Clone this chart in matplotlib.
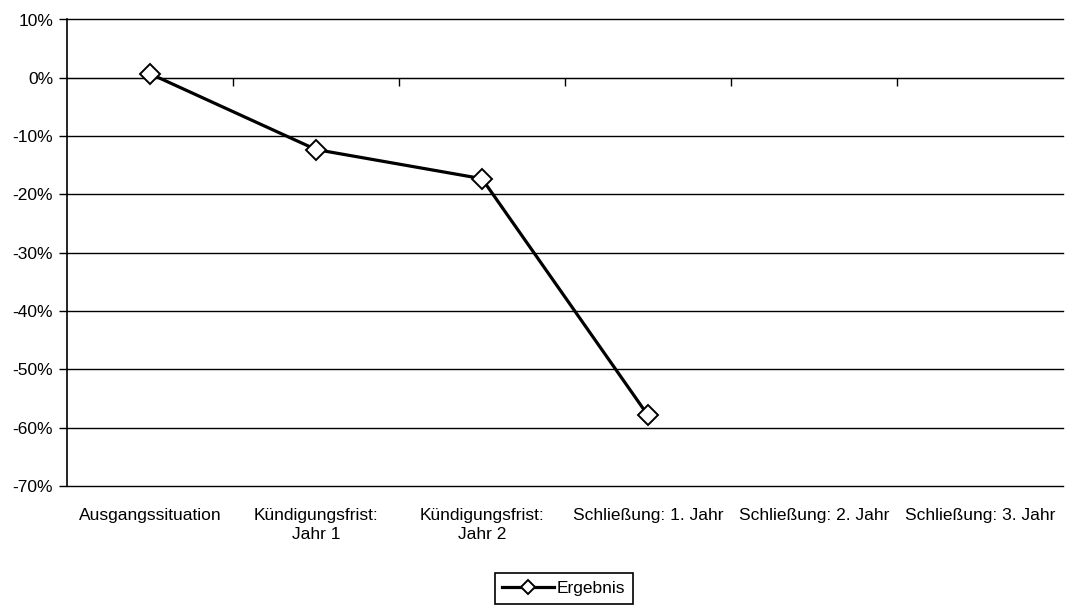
import matplotlib.pyplot as plt
from matplotlib.ticker import FuncFormatter, FixedLocator

plt.rcParams['font.family'] = ['Liberation Sans', 'DejaVu Sans']

categories = ['Ausgangssituation', 'Kündigungsfrist:\nJahr 1', 'Kündigungsfrist:\nJahr 2',
              'Schließung: 1. Jahr', 'Schließung: 2. Jahr', 'Schließung: 3. Jahr']
ergebnis = [0.7, -12.3, -17.3, -57.9]
series_name = 'Ergebnis'
y_ticks = list(range(-70, 11, 10))

fs = 12.5

fig = plt.figure(figsize=(10.66, 6.06), dpi=100)
ax = fig.add_axes([67 / 1066, 1 - 486 / 606, (1063 - 67) / 1066, (486 - 19.5) / 606])

xs = [i + 0.5 for i in range(len(ergebnis))]
ax.plot(xs, ergebnis, '-', color='k', lw=2.3, marker='D', ms=10,
        mfc='white', mec='k', mew=1.4, label=series_name, zorder=5)

ax.set_xlim(0, len(categories))
ax.set_ylim(-70, 10)

# horizontal grid, top and bottom lines included
for y in y_ticks:
    ax.axhline(y, color='k', lw=1, zorder=1, clip_on=False)

ax.yaxis.set_major_locator(FixedLocator(y_ticks))
ax.yaxis.set_major_formatter(FuncFormatter(lambda v, p: f'{v:.0f}%'))
ax.tick_params(axis='y', direction='out', length=6, width=1, labelsize=fs, pad=4)

# category axis sits on the 0% line, ticks between categories
ax.spines['bottom'].set_position(('data', 0))
ax.spines['top'].set_visible(False)
ax.spines['right'].set_visible(False)
ax.spines['left'].set_linewidth(1.2)
ax.xaxis.set_major_locator(FixedLocator(range(1, len(categories))))
ax.tick_params(axis='x', direction='out', length=6, width=1, labelbottom=False)

# category labels at the bottom of the plot area
sec = ax.secondary_xaxis('bottom')
sec.spines['bottom'].set_visible(False)
sec.set_xticks([i + 0.5 for i in range(len(categories))])
sec.set_xticklabels(categories, fontsize=fs, linespacing=1.32)
sec.tick_params(axis='x', length=0, pad=16)

leg = fig.legend(loc='lower center', bbox_to_anchor=(0.529, 0.0), fontsize=fs,
                 frameon=True, fancybox=False, edgecolor='k', framealpha=1,
                 handlelength=3.0, handletextpad=0.15, borderpad=0.45,
                 borderaxespad=0.1)
leg.get_frame().set_linewidth(1.2)
leg.legend_handles[0].set_markersize(7)

fig.savefig('out.png', dpi=100)
